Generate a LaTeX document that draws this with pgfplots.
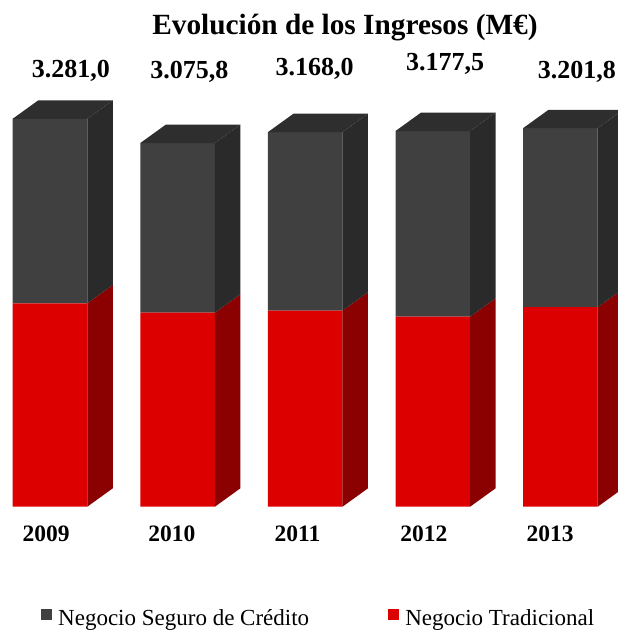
\documentclass[border=0pt]{standalone}
\usepackage{pgfplots}
\pgfplotsset{compat=1.18}
\usepackage{fontspec}
\setmainfont{Liberation Serif}
\definecolor{gfront}{HTML}{404040}
\definecolor{gside}{HTML}{2A2A2A}
\definecolor{gtop}{HTML}{2E2E2E}
\definecolor{rfront}{HTML}{DD0000}
\definecolor{rside}{HTML}{8B0000}
\begin{document}
\begin{tikzpicture}
\begin{axis}[
  at={(0pt,0pt)}, anchor=south west,
  scale only axis, width=618pt, height=632pt,
  xmin=-0.3918, xmax=4.4514, ymin=-1059.8, ymax=4285.7,
  clip mode=individual,
  axis line style={draw=none}, tick style={draw=none},
  ytick=\empty,
  xtick={-0.0313,0.9553,1.9404,2.9310,3.9185},
  xticklabels={2009,2010,2011,2012,2013},
  xticklabel style={anchor=base, yshift=90.3pt, font=\fontsize{23.5}{28}\selectfont\bfseries},
  ybar stacked, bar width=0.5846,
]
% front faces (stacked)
\addplot[fill=rfront, draw=none, forget plot] coordinates {(0,1720) (1,1641) (2,1658) (3,1607) (4,1687)};
\addplot[fill=gfront, draw=none, forget plot] coordinates {(0,1561.0) (1,1434.8) (2,1510.0) (3,1570.5) (4,1514.8)};
\end{axis}
\begin{axis}[
  at={(0pt,0pt)}, anchor=south west,
  scale only axis, width=618pt, height=632pt,
  xmin=-0.3918, xmax=4.4514, ymin=-1059.8, ymax=4285.7,
  clip mode=individual,
  hide axis,
  legend columns=2,
  legend style={draw=none, fill=none, inner sep=0pt, outer sep=0pt,
    at={(axis description cs:0.0665,0.0085)}, anchor=south west,
    font=\fontsize{23}{27}\selectfont,
    nodes={inner sep=0pt},
    /tikz/every odd column/.append style={column sep=6.5pt},
    /tikz/every even column/.append style={column sep=79pt}},
  legend image code/.code={\fill[#1] (0pt,-2.5pt) rectangle (10.6pt,9.2pt);},
]
% side and top faces (3D depth)
% bar 2009
\addplot[fill=rside, draw=none, forget plot] coordinates {(0.2923,0) (0.4921,155.6) (0.4921,1875.6) (0.2923,1720)} -- cycle;
\addplot[fill=gside, draw=none, forget plot] coordinates {(0.2923,1720) (0.4921,1875.6) (0.4921,3436.6) (0.2923,3281.0)} -- cycle;
\addplot[fill=gtop, draw=none, forget plot] coordinates {(-0.2923,3281.0) (-0.0925,3436.6) (0.4921,3436.6) (0.2923,3281.0)} -- cycle;
% bar 2010
\addplot[fill=rside, draw=none, forget plot] coordinates {(1.2923,0) (1.4921,155.6) (1.4921,1796.6) (1.2923,1641)} -- cycle;
\addplot[fill=gside, draw=none, forget plot] coordinates {(1.2923,1641) (1.4921,1796.6) (1.4921,3231.4) (1.2923,3075.8)} -- cycle;
\addplot[fill=gtop, draw=none, forget plot] coordinates {(0.7077,3075.8) (0.9075,3231.4) (1.4921,3231.4) (1.2923,3075.8)} -- cycle;
% bar 2011
\addplot[fill=rside, draw=none, forget plot] coordinates {(2.2923,0) (2.4921,155.6) (2.4921,1813.6) (2.2923,1658)} -- cycle;
\addplot[fill=gside, draw=none, forget plot] coordinates {(2.2923,1658) (2.4921,1813.6) (2.4921,3323.6) (2.2923,3168.0)} -- cycle;
\addplot[fill=gtop, draw=none, forget plot] coordinates {(1.7077,3168.0) (1.9075,3323.6) (2.4921,3323.6) (2.2923,3168.0)} -- cycle;
% bar 2012
\addplot[fill=rside, draw=none, forget plot] coordinates {(3.2923,0) (3.4921,155.6) (3.4921,1762.6) (3.2923,1607)} -- cycle;
\addplot[fill=gside, draw=none, forget plot] coordinates {(3.2923,1607) (3.4921,1762.6) (3.4921,3333.1) (3.2923,3177.5)} -- cycle;
\addplot[fill=gtop, draw=none, forget plot] coordinates {(2.7077,3177.5) (2.9075,3333.1) (3.4921,3333.1) (3.2923,3177.5)} -- cycle;
% bar 2013
\addplot[fill=rside, draw=none, forget plot] coordinates {(4.2923,0) (4.4921,155.6) (4.4921,1842.6) (4.2923,1687)} -- cycle;
\addplot[fill=gside, draw=none, forget plot] coordinates {(4.2923,1687) (4.4921,1842.6) (4.4921,3357.4) (4.2923,3201.8)} -- cycle;
\addplot[fill=gtop, draw=none, forget plot] coordinates {(3.7077,3201.8) (3.9075,3357.4) (4.4921,3357.4) (4.2923,3201.8)} -- cycle;
\addlegendimage{fill=gfront, draw=none}
\addlegendentry{Negocio Seguro de Crédito}
\addlegendimage{fill=rfront, draw=none}
\addlegendentry{Negocio Tradicional}
% title and totals
\node[anchor=base, font=\fontsize{29.3}{34}\selectfont\bfseries] at (axis cs:2.312,3989.7) {Evolución de los Ingresos (M€)};
\node[anchor=base, font=\fontsize{26}{30}\selectfont\bfseries] at (axis cs:0.1646,3631.9) {3.281,0};
\node[anchor=base, font=\fontsize{26}{30}\selectfont\bfseries] at (axis cs:1.0925,3623.5) {3.075,8};
\node[anchor=base, font=\fontsize{26}{30}\selectfont\bfseries] at (axis cs:2.0745,3642.9) {3.168,0};
\node[anchor=base, font=\fontsize{26}{30}\selectfont\bfseries] at (axis cs:3.0956,3685.2) {3.177,5};
\node[anchor=base, font=\fontsize{26}{30}\selectfont\bfseries] at (axis cs:4.1285,3623.5) {3.201,8};
\end{axis}
\pgfresetboundingbox
\useasboundingbox (0pt,0pt) rectangle (618pt,632pt);
\end{tikzpicture}
\end{document}
